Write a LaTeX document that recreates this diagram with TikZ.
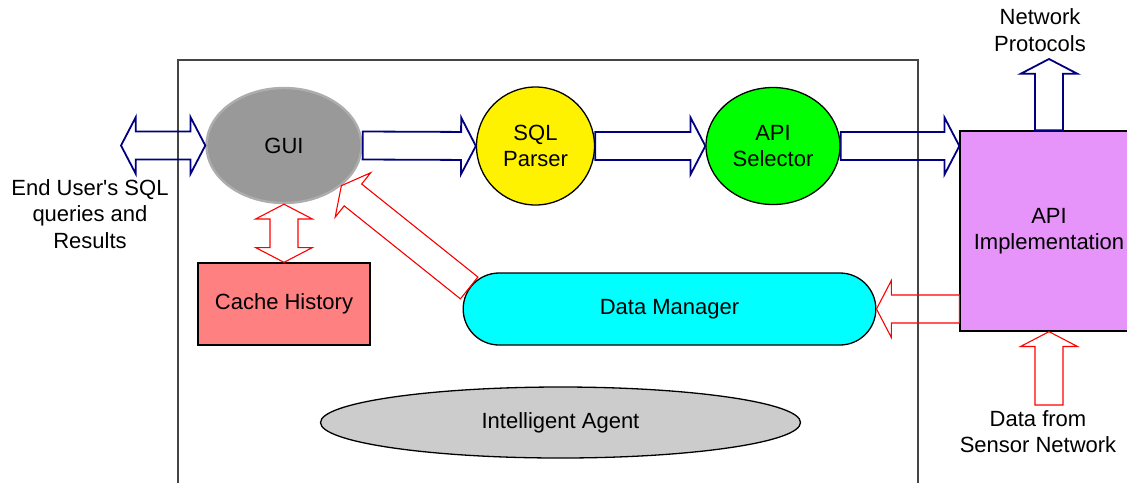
\documentclass[tikz,border=0pt]{standalone}
\usepackage{fontspec}
\newfontfamily\diagfont{Liberation Sans}
\usetikzlibrary{calc,shapes.geometric,shapes.misc}

\definecolor{navyline}{HTML}{000080}
\definecolor{guigray}{HTML}{999999}
\definecolor{guiedge}{HTML}{ADADAD}
\definecolor{cachered}{HTML}{FF8080}
\definecolor{implviolet}{HTML}{E693FA}
\definecolor{agentgray}{HTML}{CCCCCC}
\definecolor{managercyan}{HTML}{00FFFF}
\definecolor{selectgreen}{HTML}{00FF00}
\definecolor{framegray}{HTML}{454545}

% sizes of the hollow block arrows
\newcommand\shaftw{7pt}
\newcommand\headw{14.2pt}
\newcommand\headlen{7.4pt}

% hollow block arrow: style, from, to
\newcommand\fatarrow[3]{%
  \coordinate (fa-s) at #2;
  \coordinate (fa-e) at #3;
  \coordinate (fa-n) at ($(fa-e)!\headlen!(fa-s)$);
  \draw[#1] ($(fa-s)!\shaftw!90:(fa-e)$) -- ($(fa-n)!\shaftw!-90:(fa-s)$)
    -- ($(fa-n)!\headw!-90:(fa-s)$) -- (fa-e) -- ($(fa-n)!\headw!90:(fa-s)$)
    -- ($(fa-n)!\shaftw!90:(fa-s)$) -- ($(fa-s)!\shaftw!-90:(fa-e)$) -- cycle;
}
% same with a head at both ends
\newcommand\fatdarrow[3]{%
  \coordinate (fa-s) at #2;
  \coordinate (fa-e) at #3;
  \coordinate (fa-n) at ($(fa-e)!\headlen!(fa-s)$);
  \coordinate (fa-m) at ($(fa-s)!\headlen!(fa-e)$);
  \draw[#1] (fa-s) -- ($(fa-m)!\headw!90:(fa-e)$) -- ($(fa-m)!\shaftw!90:(fa-e)$)
    -- ($(fa-n)!\shaftw!-90:(fa-s)$) -- ($(fa-n)!\headw!-90:(fa-s)$) -- (fa-e)
    -- ($(fa-n)!\headw!90:(fa-s)$) -- ($(fa-n)!\shaftw!90:(fa-s)$)
    -- ($(fa-m)!\shaftw!-90:(fa-e)$) -- ($(fa-m)!\headw!-90:(fa-e)$) -- cycle;
}

\tikzset{
  blueflow/.style={draw=navyline,line width=0.9pt,line join=miter},
  redflow/.style={draw=red,line width=0.55pt,line join=miter},
  box/.style={draw,line width=0.65pt,align=center},
}

\begin{document}
\begin{tikzpicture}[x=0.5pt,y=-0.5pt,font=\diagfont\fontsize{11}{13.2}\selectfont]
\useasboundingbox (0,0) rectangle (1127,483);
% system boundary, open at the bottom
\draw[framegray,line width=0.6pt] (178,483) -- (178,60) -- (918,60) -- (918,483);

\node[box,ellipse,fill=guigray,draw=guiedge,line width=1.2pt,
  minimum width=77.5pt,minimum height=57.5pt](gui) at (284,145.5) {GUI};
\node[box,circle,fill=yellow,minimum size=59pt](parser) at (535.5,146)
  {SQL\\Parser};
\node[box,ellipse,fill=selectgreen,minimum width=67pt,minimum height=58.5pt]
  (selector) at (773,146) {API\\Selector};
\node[box,rectangle,fill=implviolet,minimum width=89pt,minimum height=100pt]
  (impl) at (1049,231) {API\\Implementation};
\node[box,fill=cachered,minimum width=86pt,minimum height=41pt](cache)
  at (284,304) {Cache History};
\node[box,rounded rectangle,fill=managercyan,minimum width=213pt,
  minimum height=36pt](manager) at (669.5,309) {Data Manager};
\node[box,ellipse,fill=agentgray,minimum width=240pt,minimum height=35.5pt]
  (agent) at (560.5,422.5) {Intelligent Agent};

% outside labels
\node[align=center](user) at (90,214) {End User's SQL\\queries and\\Results};
\node[align=center,anchor=south,inner sep=3.5pt](protocols) at (1040,59)
  {Network\\Protocols};
\node[align=center,anchor=north,inner sep=2.5pt](sensor) at (1038,405)
  {Data from\\Sensor Network};

% query path
\coordinate (enduser) at (121,145.5);
\fatdarrow{blueflow}{(enduser)}{(gui.west)}
\fatarrow{blueflow}{(gui.east)}{(parser.west)}
\fatarrow{blueflow}{(parser.east)}{(selector.west)}
\fatarrow{blueflow}{(selector.east)}{(selector.east -| impl.west)}
\fatarrow{blueflow}{(impl.north)}{(impl.north |- protocols.south)}

% data path
\fatarrow{redflow}{(impl.south |- sensor.north)}{(impl.south)}
\fatarrow{redflow}{(manager.east -| impl.west)}{(manager.east)}
\fatarrow{redflow}{(manager.174)}{(gui.-35)}
\fatdarrow{redflow}{(gui.south)}{(gui.south |- cache.north)}
\end{tikzpicture}
\end{document}
